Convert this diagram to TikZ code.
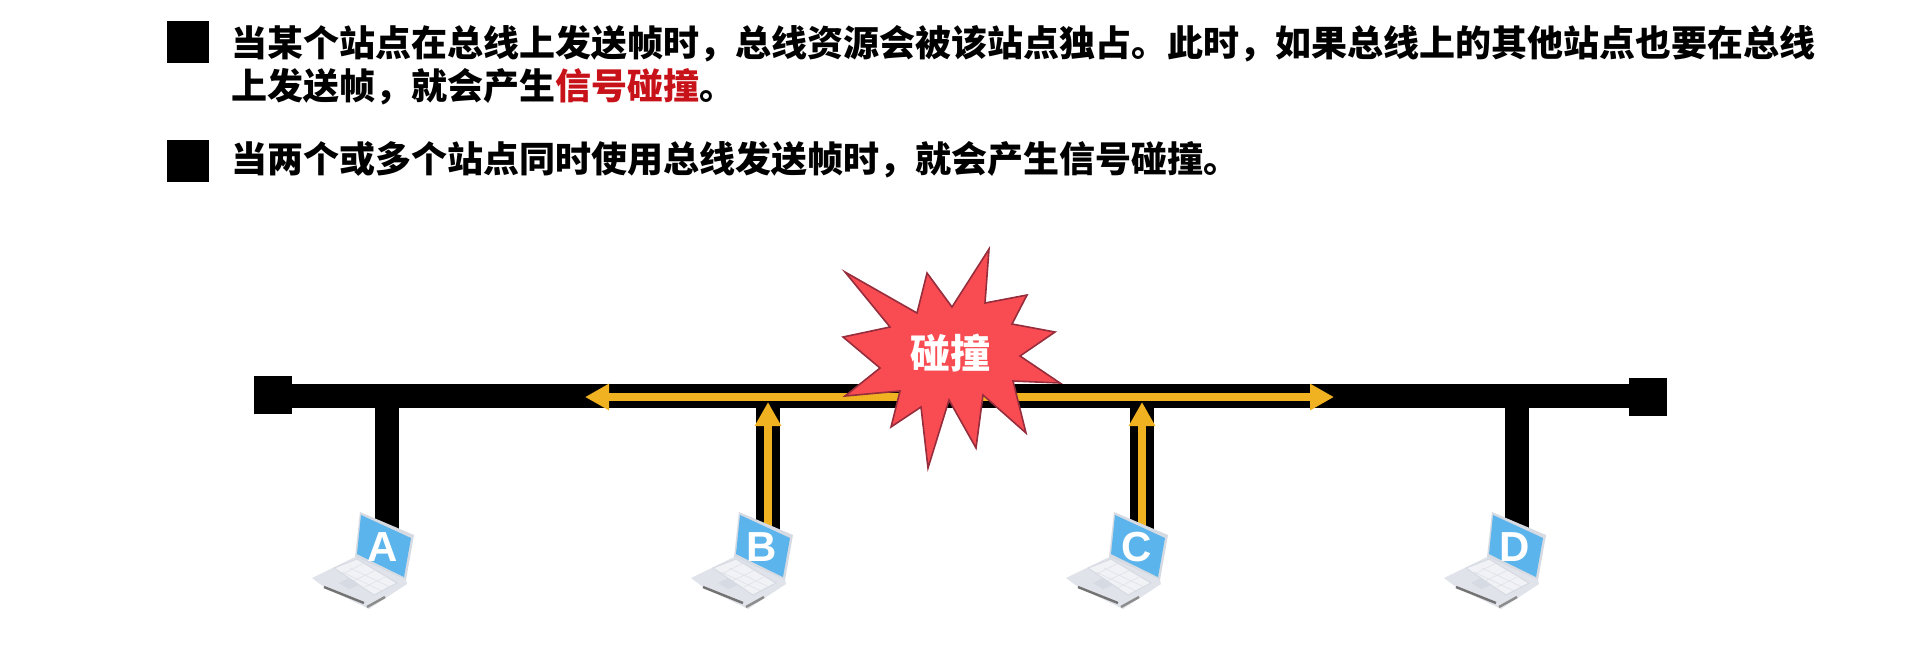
\documentclass[tikz,border=0pt]{standalone}
\usepackage{fontspec}
\usepackage{xcolor}
\usepackage{tikz}
\usetikzlibrary{arrows.meta, positioning}
\setmainfont{Liberation Sans}
\newfontfamily\cjk{Noto Sans CJK SC}[BoldFont={Noto Sans CJK SC Black}]
\definecolor{flash}{RGB}{249,75,82}
\definecolor{flashedge}{RGB}{150,45,60}
\definecolor{signal}{RGB}{241,178,34}
\definecolor{alert}{RGB}{200,18,26}
\definecolor{screen}{RGB}{92,180,236}
\definecolor{shell}{RGB}{214,218,226}
\newcommand{\hot}[1]{{\color{alert}#1}}
\tikzset{
  pics/laptop/.style={code={
    \fill[shell!75] (-71,33) -- (-28,12) -- (23,35) -- (24,39) -- (-14,64) -- (-59,42) -- cycle;
    \fill[shell!35] (-49,23) -- (-26,14) -- (14,38) -- (-9,50) -- cycle;
    \draw[shell, line width=0.5pt] (-49,23) -- (-26,14) -- (14,38) -- (-9,50) -- cycle;
    \draw[shell!80, line width=0.3pt] (-41,27) -- (-1,46) (-33,23) -- (7,42) (-42,30) -- (-19,18) (-30,36) -- (-7,25) (-18,42) -- (4,31);
    \fill[shell] (-44,38) -- (-34,33) -- (-24,40) -- (-34,44) -- cycle;
    \draw[black!55, line width=1.2pt] (-59,42) -- (-19,58);
    \draw[black!45, line width=1.2pt] (-16,62) -- (2,52);
    \fill[shell] (-23,-33) -- (31,-10) -- (23,35) -- (-28,12) -- cycle;
    \fill[screen] (-22,-30) -- (28,-7) -- (21,32) -- (-26,9) -- cycle;
  }}
}

\begin{document}
\begin{tikzpicture}[x=0.5pt, y=-0.5pt, node distance=6mm, every node/.style={font=\cjk\bfseries},
      markbox/.style={fill=black, minimum width=21pt, minimum height=21pt, inner sep=0pt},
      para/.style={font=\fontsize{18}{21.5}\cjk\bfseries, align=left, inner sep=0pt, anchor=north west},
      endcap/.style={fill=black, minimum width=19pt, minimum height=19pt, inner sep=0pt},
      busline/.style={draw=black, line width=12pt},
      ar/.style={-{Triangle[length=12pt, width=12.5pt]}, draw=signal, line width=4.4pt},
      arboth/.style={{Triangle[length=12pt, width=12.5pt]}-{Triangle[length=12pt, width=12.5pt]}, draw=signal, line width=4.4pt},
      letter/.style={font=\fontsize{21}{21}\selectfont\bfseries\rmfamily, text=white, inner sep=0pt, yshift=-1pt}]
    \useasboundingbox (0,0) rectangle (1920,650);
    \node[markbox] (m1) at (187.5,42) {};
    \node[markbox, below=38pt of m1] (m2) {};
    \node[para, right=11pt of m1.north east, anchor=north west, yshift=-2pt] (t1) {当某个站点在总线上发送帧时，总线资源会被该站点独占。此时，如果总线上的其他站点也要在总线\\上发送帧，就会产生\hot{信号碰撞}。};
    \node[para, right=11pt of m2.north east, anchor=north west, yshift=-1pt] (t2) {当两个或多个站点同时使用总线发送帧时，就会产生信号碰撞。};
    \node[endcap] (capl) at (273,395) {};
    \node[endcap] (capr) at (1648,397) {};
    \coordinate (tapa) at (387,396);
    \coordinate (tapb) at (768,396);
    \coordinate (tapc) at (1142,396);
    \coordinate (tapd) at (1517,396);
    \coordinate (tipl) at (585,397);
    \coordinate (tipr) at (1334,397);
    \coordinate (staa) at (383,545);
    \coordinate (stab) at (762,545);
    \coordinate (stac) at (1137,545);
    \coordinate (stad) at (1515,545);
    \draw[busline] (capl.east |- tapa) -- (capr.west |- tapa);
    \draw[busline] (tapa) -- (tapa |- staa);
    \draw[busline] (tapb) -- (tapb |- stab);
    \draw[busline] (tapc) -- (tapc |- stac);
    \draw[busline] (tapd) -- (tapd |- stad);
    \draw[arboth] (tipl) -- (tipr);
    \draw[ar, shorten >=3pt] (tapb |- stab) -- (tapb);
    \draw[ar, shorten >=3pt] (tapc |- stac) -- (tapc);
    \draw[fill=flash, draw=flashedge, line width=0.8pt] (845,272) -- (917,313) -- (927,273) -- (952,307) -- (989,249) -- (985,303) -- (1027,295) -- (1012,324) -- (1055,332) -- (1020,356) -- (1060,383) -- (1013,381) -- (1026,433) -- (983,395) -- (976,448) -- (949,400) -- (928,468) -- (921,407) -- (891,427) -- (900,391) -- (845,396) -- (880,368) -- (843,337) -- (890,327) -- cycle;
    \node[font=\fontsize{20}{20}\cjk\bfseries, text=white, inner sep=0pt] (hit) at (950,353) {碰撞};
    \pic at (staa) {laptop};
    \pic at (stab) {laptop};
    \pic at (stac) {laptop};
    \pic at (stad) {laptop};
    \node[letter] (a) at (staa) {A};
    \node[letter] (b) at (stab) {B};
    \node[letter] (c) at (stac) {C};
    \node[letter] (d) at (stad) {D};
  \end{tikzpicture}
\end{document}
